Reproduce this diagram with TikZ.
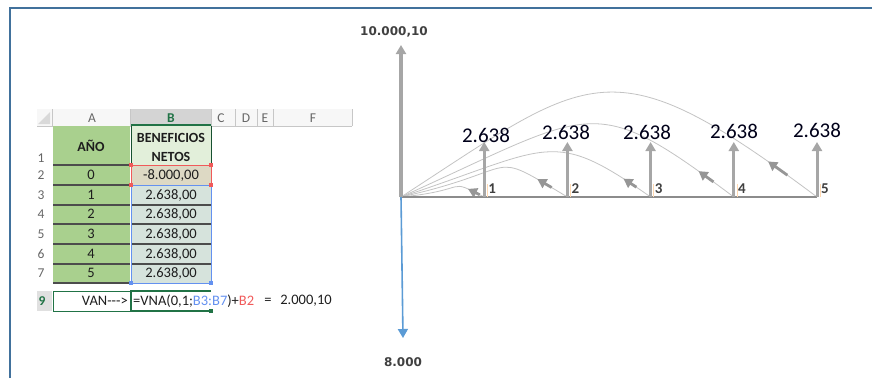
\documentclass[tikz,border=0pt]{standalone}
\usepackage{fontspec}
\setmainfont{Carlito}
\newfontfamily\dejavu{DejaVu Sans}
\usetikzlibrary{arrows.meta}

\definecolor{marco}{RGB}{65,113,156}
\definecolor{gris}{RGB}{166,166,166}
\definecolor{grisclaro}{RGB}{195,195,195}
\definecolor{grismedio}{RGB}{150,150,150}
\definecolor{azulflujo}{RGB}{91,155,213}
\definecolor{verdeA}{RGB}{169,208,142}
\definecolor{verdeB}{RGB}{226,239,218}
\definecolor{tanB}{RGB}{221,217,196}
\definecolor{celB}{RGB}{214,227,220}
\definecolor{verdexl}{RGB}{33,115,70}
\definecolor{rojoref}{RGB}{240,90,90}
\definecolor{azulref}{RGB}{100,145,240}
\definecolor{tinta}{RGB}{30,30,30}

\tikzset{
  celda/.style={inner sep=0pt, text=tinta, font=\fontsize{14.5}{17}\selectfont},
  cabecera/.style={inner sep=0pt, text=tinta, font=\bfseries\fontsize{14}{17}\selectfont},
  fila/.style={inner sep=0pt, text=black!60, font=\fontsize{13.5}{16}\selectfont},
  sep/.style={draw=black!70, line width=1.2pt},
  flujo/.style={draw=gris, line width=3pt, -{Triangle[width=10pt,length=9pt]}},
  eje/.style={draw=black!45, line width=2.5pt},
  curva/.style={draw=grisclaro, line width=0.8pt},
  punta/.style={draw=grismedio, line width=2.8pt, -{Triangle[width=10pt,length=9pt]}},
  monto/.style={inner sep=0pt, text=black!90!blue, font=\fontsize{21}{24}\selectfont},
  anio/.style={inner sep=0pt, text=black!75, font=\bfseries\fontsize{15}{17}\selectfont},
  total/.style={inner sep=0pt, text=black!75, font=\dejavu\bfseries\fontsize{12}{14}\selectfont}
}

\begin{document}
\begin{tikzpicture}[x=1pt,y=-1pt]
\useasboundingbox (0,0) rectangle (872,378);
% Rahmen
\draw[marco, line width=2.6pt] (10,378) -- (10,8) -- (872,8);

% hoja de calculo: cabecera
\fill[black!3] (37,109) rectangle (352,126);
\fill[black!17] (131,109) rectangle (211,126);
\fill[black!15] (50,112) -- (50,124) -- (38,124) -- cycle;
\foreach \x in {52,130,211,235,257,273,352}
  \draw[black!22] (\x,109) -- (\x,126);
\draw[black!22] (37,126) -- (352,126);
\draw[verdexl, line width=1.8pt] (131,125) -- (211,125);
\node[fila] (colA) at (92,118) {A};
\node[fila, text=verdexl, font=\bfseries\fontsize{13.5}{16}\selectfont] (colB) at (171,118) {B};
\node[fila] (colC) at (221,118) {C};
\node[fila] (colD) at (246,118) {D};
\node[fila] (colE) at (265,118) {E};
\node[fila] (colF) at (313,118) {F};

% celdas
\fill[verdeA] (53,126) rectangle (130,283);
\fill[verdeB] (131,126) rectangle (211,165);
\fill[tanB] (131,165) rectangle (211,185);
\fill[celB] (131,185) rectangle (211,283);
\foreach \y in {165,185,205,224,244,264,283}
  \draw[sep] (53,\y) -- (130,\y);
\foreach \y in {205,224,244,264}
  \draw[sep] (131,\y) -- (211,\y);
\draw[verdexl!70!black] (131,126) -- (131,165) (211,126) -- (211,165);
\draw[rojoref, line width=1pt] (131,165) rectangle (211,185);
\draw[azulref, line width=1pt] (131,185) rectangle (211,283);
\foreach \x/\y in {131/165,211/165,131/185,211/185}
  \fill[rojoref] (\x-2,\y-2) rectangle (\x+2,\y+2);
\foreach \x/\y in {131/283,211/283}
  \fill[azulref] (\x-2,\y-2) rectangle (\x+2,\y+2);

\node[fila, anchor=base] (f1) at (41,162) {1};
\node[cabecera] (a0) at (91,146) {AÑO};
\node[cabecera] (b0) at (171,138) {BENEFICIOS};
\node[cabecera] (b00) at (171,157) {NETOS};
\node[fila] (f2) at (41,175) {2};
\node[celda] (a1) at (91,175) {0};
\node[celda] (b1) at (171,175) {-8.000,00};
\foreach \i/\r/\y in {1/3/195,2/4/214,3/5/234,4/6/254,5/7/273} {
  \node[fila] (f\r) at (41,\y) {\r};
  \node[celda] (a\r) at (91,\y) {\i};
  \node[celda] (b\r) at (171,\y) {2.638,00};
}

% fila 9
\fill[black!12] (37,291) rectangle (52,311);
\draw[verdexl, line width=1pt] (53,291) rectangle (131,311);
\draw[verdexl, line width=1.4pt] (211,291) -- (131,291) -- (131,311) -- (211,311);
\draw[verdexl, line width=2pt] (131,311) -- (211,311);
\fill[verdexl] (209,309) rectangle (213,313);
\node[fila, text=verdexl, font=\bfseries\fontsize{13.5}{16}\selectfont] (f9) at (42,301) {9};
\node[celda, anchor=east] (van) at (128,301) {VAN-{}-{}->};
\node[celda, anchor=west] (vna) at (133,301)
  {=VNA(0,1;\textcolor{azulref}{B3:B7})+\textcolor{rojoref}{B2}};
\node[celda] (igual) at (268,301) {=};
\node[celda] (res) at (306,301) {2.000,10};

% diagrama de flujo
\coordinate (o) at (401,197);
\foreach \k in {1,...,5} {
  \coordinate (t\k) at (401+83.2*\k,197);
  \coordinate (u\k) at (401+83.2*\k,142);
}
% curvas de descuento
\draw[curva] (t1) .. controls (445,177) and (473,190) .. (o)
  coordinate[pos=0.04] (c1a) coordinate[pos=0.19] (c1b);
\draw[curva] (t2) .. controls (484,147) and (527,169) .. (o)
  coordinate[pos=0.07] (c2a) coordinate[pos=0.15] (c2b);
\draw[curva] (t3) .. controls (551,127) and (552,147) .. (o)
  coordinate[pos=0.05] (c3a) coordinate[pos=0.10] (c3b);
\draw[curva] (t4) .. controls (591,90) and (596,109) .. (o)
  coordinate[pos=0.05] (c4a) coordinate[pos=0.09] (c4b);
\draw[curva] (t5) .. controls (610,42) and (592,73) .. (o)
  coordinate[pos=0.05] (c5a) coordinate[pos=0.085] (c5b);
\foreach \k in {1,...,5}
  \draw[punta] (c\k a) -- (c\k b);

\draw[eje] (o) -- (t5);
\foreach \k in {1,...,5} {
  \draw[orange!30, line width=0.6pt] ([xshift=3pt]t\k) -- ++(0,-13);
  \draw[flujo] (t\k) -- (u\k);
  \node[anio, anchor=base west] (n\k) at ([xshift=4pt,yshift=4pt]t\k) {\k};
}
\foreach \k/\x/\y in {1/486/135,2/566/132,3/647/132,4/734/131,5/817/130}
  \node[monto] (m\k) at (\x,\y) {2.638};

\coordinate (arriba) at (401,45);
\coordinate (abajo) at (403,338);
\draw[flujo, line width=3.5pt] (o) -- (arriba);
\draw[draw=azulflujo, line width=1.6pt, -{Triangle[width=10pt,length=9pt]}] (o) -- (abajo);
\node[total] (vp) at (394,32) {10.000,10};
\node[total] (inv) at (403,362) {8.000};
\end{tikzpicture}
\end{document}
